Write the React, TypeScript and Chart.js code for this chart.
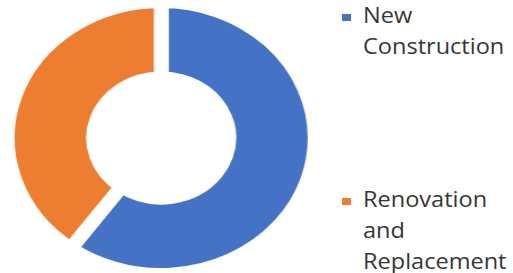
import React, { useEffect, useRef } from "react";
import { Chart, registerables } from "chart.js";

Chart.register(...registerables);

const categories = ["New Construction", "Renovation and Replacement"];
const shares = [60, 40];
const colors = ["#4472C4", "#ED7D31"];
const legendLines = [["New", "Construction"], ["Renovation", "and", "Replacement"]];

const SIZE = 286;
const STRETCH = 1.127;

export default function App() {
  const ref = useRef<HTMLCanvasElement>(null);

  useEffect(() => {
    const chart = new Chart(ref.current as HTMLCanvasElement, {
      type: "doughnut",
      data: {
        labels: categories,
        datasets: [
          {
            data: shares,
            backgroundColor: colors,
            borderColor: "#ffffff",
            borderWidth: 13,
            hoverOffset: 0,
          },
        ],
      },
      options: {
        responsive: false,
        animation: false,
        cutout: "44%",
        layout: { padding: 0 },
        plugins: { legend: { display: false }, tooltip: { enabled: false } },
      },
    });
    return () => chart.destroy();
  }, []);

  const legendTops = [-1, 183];

  return (
    <div
      style={{
        position: "fixed",
        left: 0,
        top: 0,
        width: 513,
        height: 273,
        background: "#ffffff",
        overflow: "hidden",
      }}
    >
      <canvas
        ref={ref}
        width={SIZE}
        height={SIZE}
        style={{
          position: "absolute",
          left: 0.3,
          top: -5,
          width: SIZE,
          height: SIZE,
          transform: `scaleX(${STRETCH})`,
          transformOrigin: "0 0",
        }}
      />
      {legendLines.map((lines, i) => (
        <div
          key={categories[i]}
          style={{
            position: "absolute",
            left: 342,
            top: legendTops[i],
            fontFamily: "'Open Sans', sans-serif",
            fontSize: 22,
            lineHeight: "31px",
            color: "#363636",
          }}
        >
          <div
            style={{
              position: "absolute",
              left: 0,
              top: 15,
              width: 9,
              height: 7,
              background: colors[i],
            }}
          />
          <div
            style={{
              position: "absolute",
              left: 21,
              top: 0,
              whiteSpace: "nowrap",
              transform: `scaleX(1.07)`,
              transformOrigin: "0 0",
            }}
          >
            {lines.map((l) => (
              <div key={l}>{l}</div>
            ))}
          </div>
        </div>
      ))}
    </div>
  );
}
